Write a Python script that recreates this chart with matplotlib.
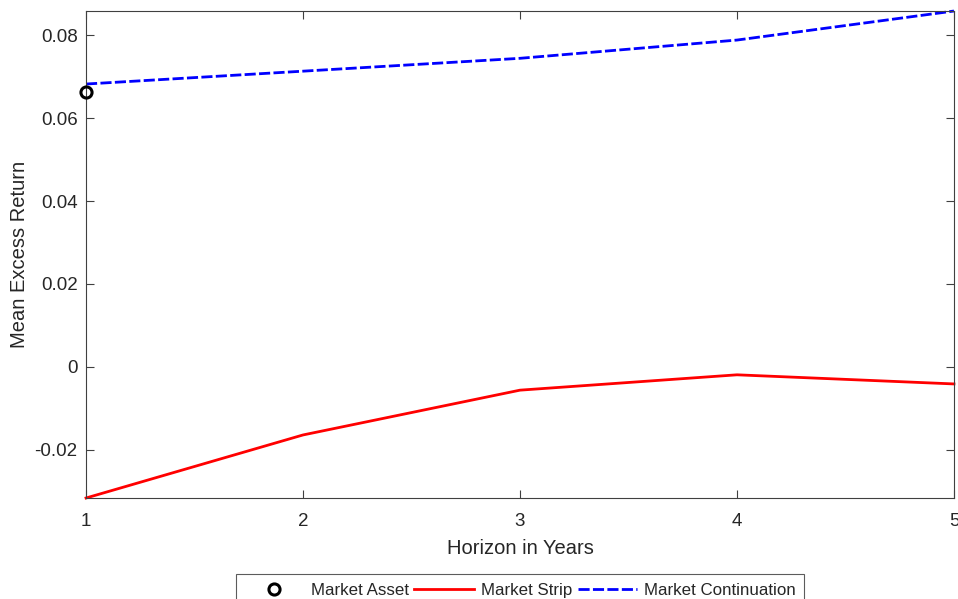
import matplotlib
matplotlib.use("Agg")
import matplotlib.pyplot as plt

plt.rcParams['font.family'] = ['Liberation Sans', 'DejaVu Sans']

horizon = [1, 2, 3, 4, 5]
market_asset_x = [1]
market_asset_y = [0.0662]
market_strip = [-0.0316, -0.0164, -0.0056, -0.0019, -0.0041]
market_continuation = [0.0682, 0.0713, 0.0744, 0.0788, 0.0858]
yticks = [-0.02, 0, 0.02, 0.04, 0.06, 0.08]
ytick_labels = ['-0.02', '0', '0.02', '0.04', '0.06', '0.08']

fig = plt.figure(figsize=(9.58, 5.99), dpi=100)
ax = fig.add_axes([0.0898, 0.1686, 0.9060, 0.8130])

txt = '#262626'
ax.plot(market_asset_x, market_asset_y, 'o', mfc='none', mec='black', ms=8, mew=2.2,
        label='Market Asset', zorder=5, clip_on=False)
ax.plot(horizon, market_strip, '-', color='#ff0000', lw=2, label='Market Strip', clip_on=False)
ax.plot(horizon, market_continuation, color='#0000ff', lw=2, ls=(0, (4, 1.2)),
        label='Market Continuation', clip_on=False)

ax.set_xlim(1, 5)
ax.set_ylim(-0.0316, 0.0858)
ax.set_xticks(horizon)
ax.set_yticks(yticks)
ax.set_yticklabels(ytick_labels)
ax.tick_params(direction='in', top=True, right=True, length=6, width=0.8,
               colors='#404040', labelcolor=txt, labelsize=13.5)
ax.tick_params(axis='x', pad=11)
ax.tick_params(axis='y', pad=6)
for s in ax.spines.values():
    s.set_color('#404040')
    s.set_linewidth(0.8)

ax.set_xlabel('Horizon in Years', fontsize=14.5, color=txt, labelpad=6)
ax.set_ylabel('Mean Excess Return', fontsize=14.5, color=txt, labelpad=4)

leg = fig.legend(loc='upper center', bbox_to_anchor=(0.5428, 0.0415), ncol=3,
                 frameon=True, fancybox=False, fontsize=12.2, handlelength=3.5,
                 columnspacing=0.35, handletextpad=0.4, borderpad=0.5, borderaxespad=0)
leg.get_frame().set_edgecolor('#333333')
leg.get_frame().set_linewidth(0.8)
for t in leg.get_texts():
    t.set_color(txt)

fig.savefig('out.png', dpi=100)
